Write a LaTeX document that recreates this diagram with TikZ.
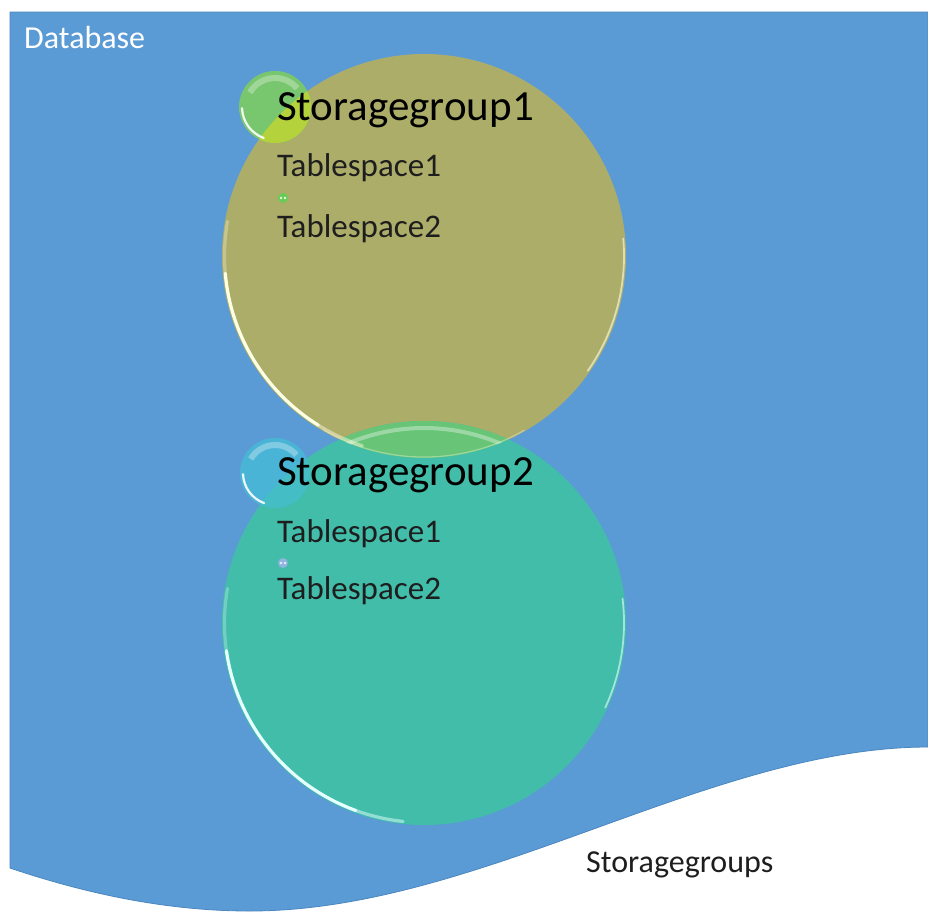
\documentclass[tikz,border=0pt]{standalone}
\usepackage{fontspec}
\setmainfont{Carlito}
\definecolor{dbblue}{HTML}{5B9BD5}
\definecolor{dbedge}{HTML}{4A86C0}
\definecolor{olivec}{HTML}{ADAD6A}
\definecolor{tealc}{HTML}{41BDAA}
\definecolor{lensc}{HTML}{68C476}
\definecolor{bubAout}{HTML}{78C66E}
\definecolor{bubAin}{HTML}{B4D23C}
\definecolor{bubBout}{HTML}{4AB4D6}
\definecolor{bubBin}{HTML}{45BDC4}
\definecolor{hlyel}{HTML}{FFFFE6}
\definecolor{hlcya}{HTML}{E6FFFF}
\definecolor{txtdark}{HTML}{1E1E1E}
\definecolor{tinyA}{HTML}{66CC55}
\definecolor{tinyB}{HTML}{8FB4E0}
\begin{document}
\begin{tikzpicture}[x=1pt,y=-1pt,
  bigc/.style={circle,minimum size=404pt,inner sep=0pt,outer sep=0pt},
  bubc/.style={circle,minimum size=72pt,inner sep=0pt,outer sep=0pt},
  tinyc/.style={circle,minimum size=10pt,inner sep=0pt,outer sep=0pt},
  titletxt/.style={anchor=base west,inner sep=0pt,text=black,font=\fontsize{43}{50}\selectfont},
  itemtxt/.style={anchor=base west,inner sep=0pt,text=txtdark,font=\fontsize{33}{40}\selectfont},
  labtxt/.style={anchor=base west,inner sep=0pt,font=\fontsize{32}{38}\selectfont},
  hl/.style={line width=3.2pt,line cap=round},
]
\useasboundingbox (0,0) rectangle (928,911);
\fill[white] (0,0) rectangle (928,911);

% database shape
\filldraw[fill=dbblue,draw=dbedge,line width=0.8pt]
  (10,12) -- (928,12) -- (928,747)
  .. controls (710,747) and (480,911) .. (250,911)
  .. controls (170,911) and (90,895) .. (10,868) -- cycle;

% big circles
\node[bigc,fill=olivec] (sg1) at (424,256) {};
\node[bigc,fill=tealc] (sg2) at (424,623) {};
\begin{scope}
  \clip (sg1.center) circle (202);
  \fill[lensc] (sg2.center) circle (202);
  \draw[white,opacity=0.35,line width=4pt] (sg2.center) ++(-130:195) arc[start angle=-130,end angle=-50,radius=195];
  \draw[hlyel,opacity=0.35,line width=1.2pt] (sg1.center) ++(60:201) arc[start angle=60,end angle=120,radius=201];
\end{scope}

% highlights circle 1
\draw[hl,hlyel,opacity=0.3] (sg1.center) ++(190:199.5) arc[start angle=190,end angle=175,radius=199.5];
\draw[hl,hlyel,opacity=1] (sg1.center) ++(175:199.5) arc[start angle=175,end angle=122,radius=199.5];
\draw[hl,hlyel,opacity=0.45] (sg1.center) ++(122:199.5) arc[start angle=122,end angle=108,radius=199.5];
\draw[hlyel,opacity=0.6,line width=1.8pt,line cap=round] (sg1.center) ++(-5:200) arc[start angle=-5,end angle=35,radius=200];

% highlights circle 2
\draw[hl,hlcya,opacity=0.3] (sg2.center) ++(190:199.5) arc[start angle=190,end angle=172,radius=199.5];
\draw[hl,hlcya,opacity=1] (sg2.center) ++(172:199.5) arc[start angle=172,end angle=110,radius=199.5];
\draw[hl,hlcya,opacity=0.5] (sg2.center) ++(110:199.5) arc[start angle=110,end angle=96,radius=199.5];
\draw[hlcya,opacity=0.6,line width=1.8pt,line cap=round] (sg2.center) ++(-7:200) arc[start angle=-7,end angle=25,radius=200];

% bubble 1
\node[bubc,fill=bubAout] (b1) at (275,107) {};
\begin{scope}
  \clip (sg1.center) circle (202);
  \fill[bubAin] (b1.center) circle (36);
\end{scope}
\draw[white,opacity=0.3,line width=6pt] (b1.center) ++(-150:29) arc[start angle=-150,end angle=-40,radius=29];
\draw[white,opacity=0.9,line width=2.2pt,line cap=round] (b1.center) ++(178:33) arc[start angle=178,end angle=110,radius=33];

% bubble 2
\node[bubc,fill=bubBout,minimum size=70pt] (b2) at (275,473) {};
\begin{scope}
  \clip (sg2.center) circle (202);
  \fill[bubBin] (b2.center) circle (35);
\end{scope}
\draw[white,opacity=0.3,line width=6pt] (b2.center) ++(-150:28) arc[start angle=-150,end angle=-40,radius=28];
\draw[white,opacity=0.9,line width=2.2pt,line cap=round] (b2.center) ++(178:32) arc[start angle=178,end angle=110,radius=32];

% tiny bubbles
\node[tinyc,fill=tinyA] (tb1) at (283,198) {};
\fill[white,opacity=0.8] (tb1.center) ++(-2,0) circle (1.4);
\fill[white,opacity=0.8] (tb1.center) ++(2,0) circle (1.4);
\node[tinyc,fill=tinyB] (tb2) at (283,563) {};
\fill[white,opacity=0.8] (tb2.center) ++(-2,0) circle (1.4);
\fill[white,opacity=0.8] (tb2.center) ++(2,0) circle (1.4);

% texts
\node[labtxt,text=white] (db) at (24,48) {Database};
\node[titletxt] (t1) at (277,120) {Storagegroup1};
\node[itemtxt] (t1a) at (277,176) {Tablespace1};
\node[itemtxt] (t1b) at (277,237) {Tablespace2};
\node[titletxt] (t2) at (277,485) {Storagegroup2};
\node[itemtxt] (t2a) at (277,542) {Tablespace1};
\node[itemtxt] (t2b) at (277,599) {Tablespace2};
\node[labtxt,text=txtdark] (sgs) at (586,872) {Storagegroups};
\end{tikzpicture}
\end{document}
